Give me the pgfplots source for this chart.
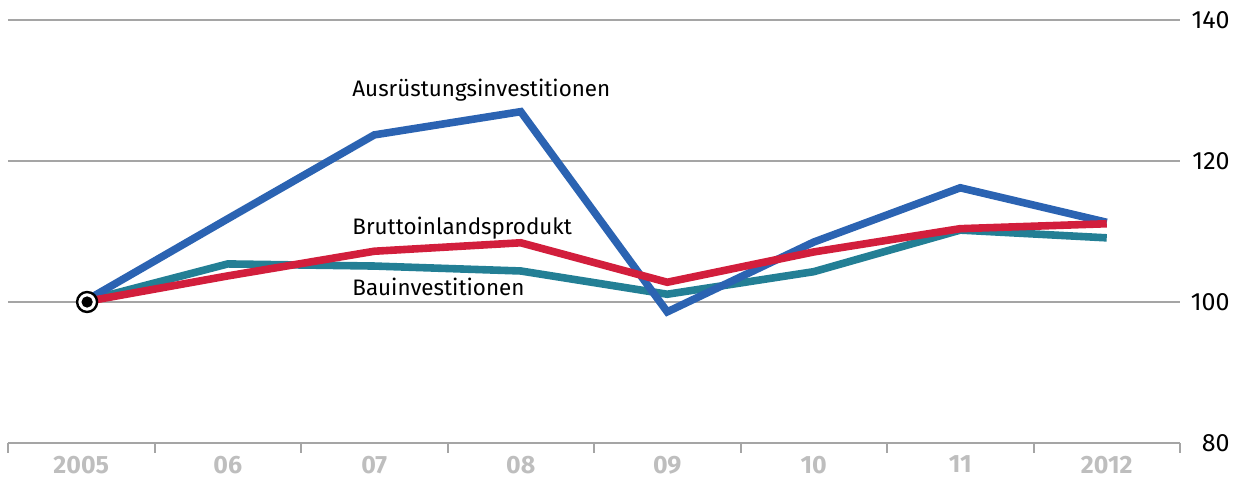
\documentclass[border=0pt]{standalone}
\usepackage{pgfplots}
\pgfplotsset{compat=1.18}
\usepackage{fontspec}
\setmainfont{Fira Sans}
\definecolor{ausblue}{RGB}{43,99,178}
\definecolor{bauteal}{RGB}{35,127,149}
\definecolor{bipred}{RGB}{210,30,60}
\definecolor{gridgray}{RGB}{165,165,165}
\definecolor{xlabgray}{RGB}{190,190,190}
\begin{document}
\begin{tikzpicture}
\begin{axis}[
    name=ax,
    scale only axis,
    width=586pt, height=211.5pt,
    xmin=-0.5, xmax=7.5,
    ymin=80, ymax=140,
    axis x line*=bottom,
    axis y line*=right,
    y axis line style={draw=none},
    x axis line style={gridgray, line width=1pt},
    xtick={0,...,7},
    xticklabels={2005,06,07,08,09,10,11,2012},
    minor xtick={-0.5,0.5,...,7.5},
    tick align=outside,
    major tick length=0pt,
    minor tick length=5pt,
    minor tick style={gridgray, line width=1pt},
    ytick={80,100,120,140},
    ymajorgrids,
    grid style={gridgray, line width=1pt},
    x tick label style={font=\fontsize{12.5}{14}\selectfont\bfseries, text=xlabgray, yshift=-3pt},
    y tick label style={font=\fontsize{12.5}{14}\selectfont, anchor=east, inner sep=0pt, xshift=25pt},
    /pgf/number format/assume math mode=true,
    clip=false,
]
\addplot[bauteal, line width=3.8pt, line join=miter] coordinates {
    (0.04,100.2) (1,105.4) (2,105.1) (3,104.4) (4,101.1) (5,104.3) (6,110.2) (7,109.1)
};
\addplot[ausblue, line width=3.8pt, line join=miter] coordinates {
    (0.04,100.3) (1,111.8) (2,123.7) (3,127.0) (4,98.6) (5,108.5) (6,116.2) (7,111.3)
};
\addplot[bipred, line width=3.8pt, line join=miter] coordinates {
    (0.04,100.1) (1,103.7) (2,107.2) (3,108.4) (4,102.8) (5,107.1) (6,110.4) (7,111.1)
};
\addplot[only marks, mark=*, mark size=5pt, mark options={fill=white, draw=black, line width=1.2pt}] coordinates {(0.04,100)};
\addplot[only marks, mark=*, mark size=2.6pt, mark options={fill=black, draw=black}] coordinates {(0.04,100)};
\node[anchor=west, inner sep=0pt, font=\fontsize{11.2}{13}\selectfont] at (axis cs:1.848,130.0) {Ausrüstungsinvestitionen};
\node[anchor=west, inner sep=0pt, font=\fontsize{11.2}{13}\selectfont] at (axis cs:1.848,110.5) {Bruttoinlandsprodukt};
\node[anchor=west, inner sep=0pt, font=\fontsize{11.2}{13}\selectfont] at (axis cs:1.848,102.2) {Bauinvestitionen};
\end{axis}
\pgfresetboundingbox
\path ([shift={(-4pt,-19pt)}]ax.south west) rectangle ([shift={(26.5pt,10pt)}]ax.north east);
\end{tikzpicture}
\end{document}
